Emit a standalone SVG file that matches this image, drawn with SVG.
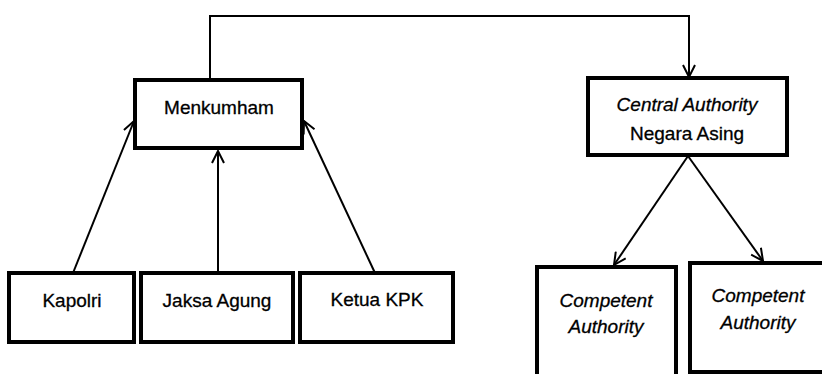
<svg xmlns="http://www.w3.org/2000/svg" width="822" height="374" viewBox="0 0 822 374">
<defs>
<style>
.box{fill:#fff;stroke:#000;stroke-width:4}
.lbl{font-family:"Liberation Sans",Arial,sans-serif;font-size:19px;fill:#000;stroke:#000;stroke-width:0.3;text-anchor:middle}
.it{font-style:italic}
.con{fill:none;stroke:#000;stroke-width:2}
</style>
<marker id="arr" viewBox="0 0 14 14" refX="13" refY="7" markerWidth="14" markerHeight="14" markerUnits="userSpaceOnUse" orient="auto">
<path d="M1,1 L13,7 L1,13" fill="none" stroke="#000" stroke-width="2"/>
</marker>
</defs>
<rect width="822" height="374" fill="#fff"/>
<g id="connectors">
<path class="con" d="M210,80 L210,16 L689,16 L689,77" marker-end="url(#arr)"/>
<path class="con" d="M73,273 L134,121" marker-end="url(#arr)"/>
<path class="con" d="M218,273 L218,151" marker-end="url(#arr)"/>
<path class="con" d="M375,273 L304,121" marker-end="url(#arr)"/>
<path class="con" d="M688,156 L614,265" marker-end="url(#arr)"/>
<path class="con" d="M688,156 L763,261" marker-end="url(#arr)"/>
</g>
<g id="menkumham">
<rect class="box" x="135" y="80" width="167" height="68"/>
<text class="lbl" x="219" y="114">Menkumham</text>
</g>
<g id="central-authority">
<rect class="box" x="588" y="78" width="199" height="77"/>
<text class="lbl it" x="687" y="111">Central Authority</text>
<text class="lbl" x="687" y="140">Negara Asing</text>
</g>
<g id="kapolri">
<rect class="box" x="9" y="273" width="125" height="69"/>
<text class="lbl" x="72" y="307">Kapolri</text>
</g>
<g id="jaksa-agung">
<rect class="box" x="141" y="273" width="152" height="69"/>
<text class="lbl" x="217" y="307">Jaksa Agung</text>
</g>
<g id="ketua-kpk">
<rect class="box" x="300" y="273" width="153" height="69"/>
<text class="lbl" x="377" y="306">Ketua KPK</text>
</g>
<g id="competent-1">
<rect class="box" x="537" y="267" width="139" height="120"/>
<text class="lbl it" x="606" y="307">Competent</text>
<text class="lbl it" x="606" y="333">Authority</text>
</g>
<g id="competent-2">
<rect class="box" x="690" y="263" width="150" height="109"/>
<text class="lbl it" x="758" y="302">Competent</text>
<text class="lbl it" x="758" y="329">Authority</text>
</g>
</svg>
